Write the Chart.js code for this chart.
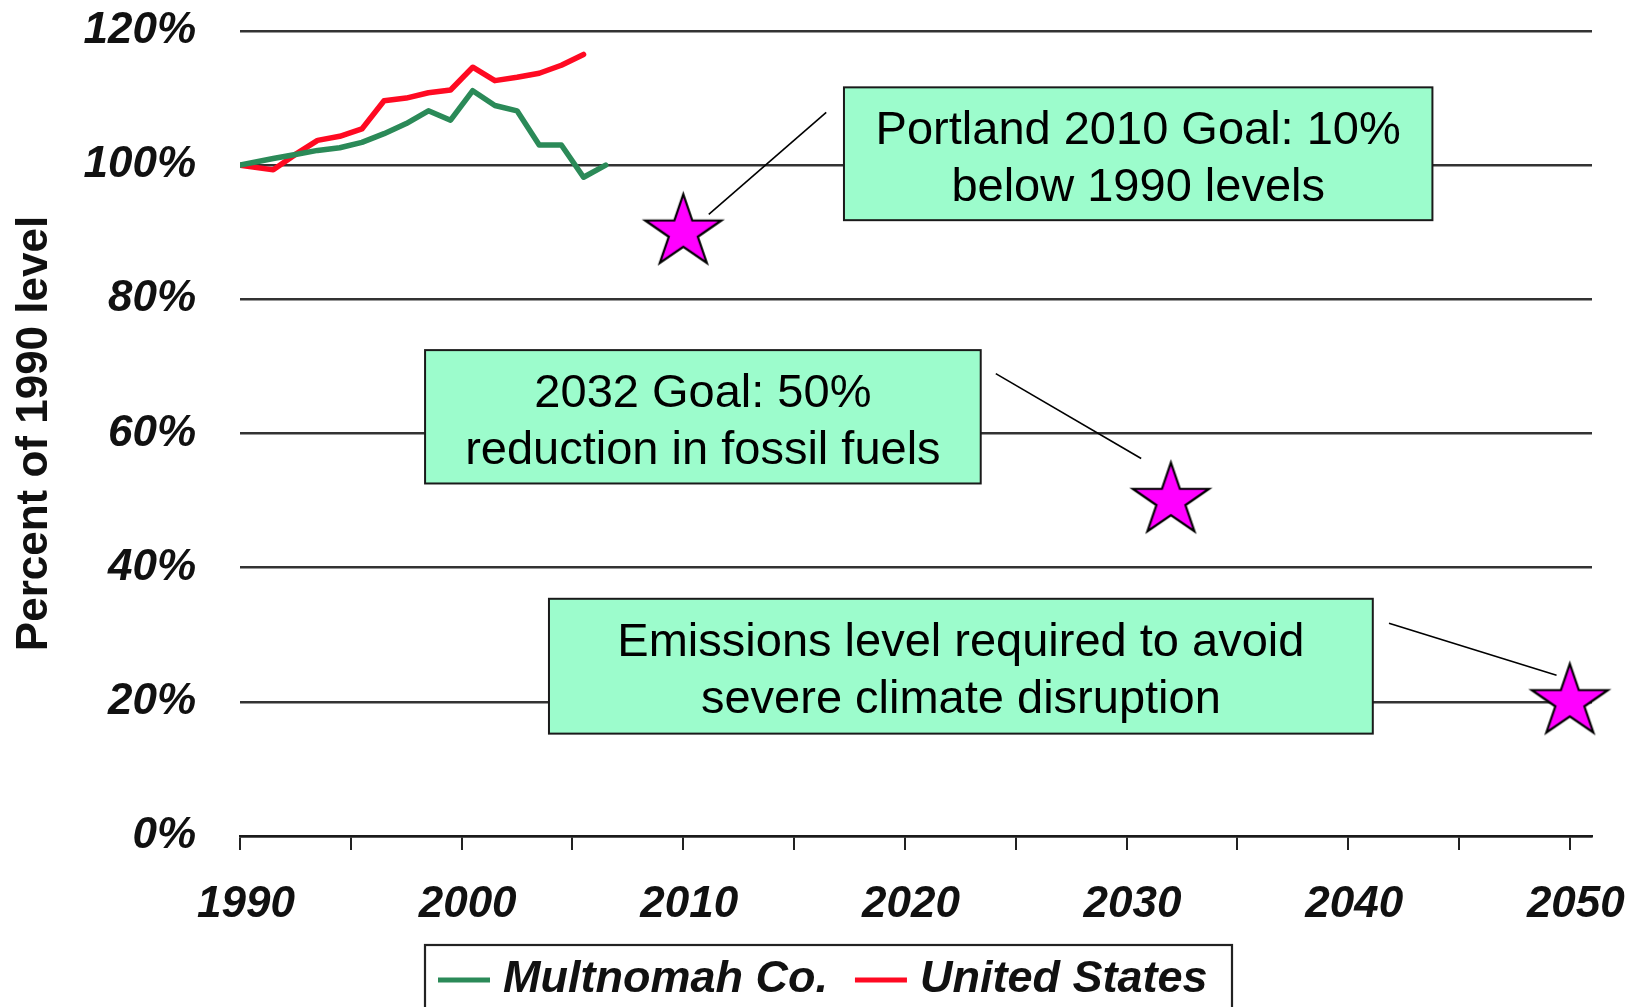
<!DOCTYPE html>
<html>
<head>
<meta charset="utf-8">
<script src="https://cdn.jsdelivr.net/npm/chart.js@4.4.1/dist/chart.umd.min.js"></script>
<style>
  html, body { margin: 0; padding: 0; background: #ffffff; }
  canvas { display: block; }
</style>
</head>
<body>
<canvas id="chart" width="1637" height="1007"></canvas>
<script>
// ---- Data: greenhouse gas emissions as a percent of the 1990 level ----
const multnomahYears  = [1990, 1991.5, 1992.5, 1993.5, 1994.5, 1995.5, 1996.5, 1997.5, 1998.5, 1999.5, 2000.5, 2001.5, 2002.5, 2003.5, 2004.5, 2005.5, 2006.5];
const multnomahValues = [100, 101.0, 101.6, 102.2, 102.6, 103.4, 104.7, 106.2, 108.1, 106.7, 111.1, 108.9, 108.1, 103.0, 103.0, 98.2, 100.0];

const usYears  = [1990, 1991.5, 1992.5, 1993.5, 1994.5, 1995.5, 1996.5, 1997.5, 1998.5, 1999.5, 2000.5, 2001.5, 2002.5, 2003.5, 2004.5, 2005.5];
const usValues = [100, 99.3, 101.6, 103.7, 104.3, 105.4, 109.6, 110.0, 110.8, 111.2, 114.6, 112.6, 113.1, 113.7, 114.9, 116.5];

// Reduction goals (year, percent of 1990 level)
const goalYears  = [2010, 2032, 2050];
const goalLevels = [90, 50, 20];
const goalNotes  = [
  ['Portland 2010 Goal: 10%', 'below 1990 levels'],
  ['2032 Goal: 50%', 'reduction in fossil fuels'],
  ['Emissions level required to avoid', 'severe climate disruption']
];

// Axis tick labels
const xLabelYears = [1990, 2000, 2010, 2020, 2030, 2040, 2050];
const yTickValues = [0, 20, 40, 60, 80, 100, 120];

const seriesNames = ['Multnomah Co.', 'United States'];

// ---- Styling ----
const FONT = '"Liberation Sans", Arial, Helvetica, sans-serif';
const GREEN = '#2b8a58';
const RED = '#ff0a22';
const NOTE_FILL = '#9cfccc';

// Note boxes and leader lines, placed in axis units (year, percent)
const noteLayout = [
  { x0: 2017.25, x1: 2043.8, y0: 111.6, y1: 91.8,  from: [2016.45, 107.86], to: [2011.15, 92.68] },
  { x0: 1998.35, x1: 2023.42, y0: 72.43, y1: 52.55, from: [2024.1, 68.93],  to: [2030.66, 56.27] },
  { x0: 2003.94, x1: 2041.11, y0: 35.36, y1: 15.26, from: [2041.84, 31.71], to: [2049.4, 23.97] }
];

const toXY = (xs, ys) => xs.map((x, i) => ({ x: x, y: ys[i] }));

// Magenta five-pointed star used as the goal marker
function makeStar(rx, ry, lw) {
  const w = Math.ceil(2 * rx + 2 * lw + 4);
  const h = Math.ceil(2 * ry + 2 * lw + 4);
  const c = document.createElement('canvas');
  c.width = w; c.height = h;
  const g = c.getContext('2d');
  const cx = w / 2, cy = h / 2;
  g.beginPath();
  for (let i = 0; i < 10; i++) {
    const k = (i % 2 === 0) ? 1 : 0.382;
    const a = -Math.PI / 2 + i * Math.PI / 5;
    g.lineTo(cx + rx * k * Math.cos(a), cy + ry * k * Math.sin(a));
  }
  g.closePath();
  g.fillStyle = '#ff00ff';
  g.fill();
  g.lineWidth = lw;
  g.lineJoin = 'miter';
  g.strokeStyle = '#000000';
  g.stroke();
  return c;
}
const starImage = makeStar(40, 38, 2.2);

// Boxed notes with leader lines
const notesPlugin = {
  id: 'goalNotes',
  afterDatasetsDraw(chart) {
    const { ctx, scales: { x, y } } = chart;
    ctx.save();
    noteLayout.forEach((n, i) => {
      const left = x.getPixelForValue(n.x0), right = x.getPixelForValue(n.x1);
      const top = y.getPixelForValue(n.y0), bottom = y.getPixelForValue(n.y1);
      ctx.fillStyle = NOTE_FILL;
      ctx.fillRect(left, top, right - left, bottom - top);
      ctx.lineWidth = 2;
      ctx.strokeStyle = '#1a1a1a';
      ctx.strokeRect(left, top, right - left, bottom - top);

      ctx.fillStyle = '#000000';
      ctx.font = '47px ' + FONT;
      ctx.textAlign = 'center';
      ctx.textBaseline = 'middle';
      const cx = (left + right) / 2, cy = (top + bottom) / 2;
      ctx.fillText(goalNotes[i][0], cx, cy - 23);
      ctx.fillText(goalNotes[i][1], cx, cy + 34);

      ctx.beginPath();
      ctx.moveTo(x.getPixelForValue(n.from[0]), y.getPixelForValue(n.from[1]));
      ctx.lineTo(x.getPixelForValue(n.to[0]), y.getPixelForValue(n.to[1]));
      ctx.lineWidth = 1.6;
      ctx.strokeStyle = '#000000';
      ctx.stroke();
    });
    ctx.restore();
  }
};

// Framed legend along the bottom edge
const legendPlugin = {
  id: 'framedLegend',
  afterDraw(chart) {
    const { ctx } = chart;
    const colors = [GREEN, RED];
    ctx.save();
    ctx.lineWidth = 2.2;
    ctx.strokeStyle = '#222222';
    ctx.strokeRect(425, 945, 807, 80);

    ctx.font = 'italic bold 45px ' + FONT;
    ctx.textBaseline = 'middle';
    ctx.textAlign = 'left';
    let px = 438;
    const cy = 980;
    seriesNames.forEach((name, i) => {
      ctx.beginPath();
      ctx.moveTo(px, cy);
      ctx.lineTo(px + 52, cy);
      ctx.lineWidth = 5;
      ctx.strokeStyle = colors[i];
      ctx.stroke();
      px += 65;
      ctx.fillStyle = '#111111';
      ctx.fillText(name, px, cy);
      px += ctx.measureText(name).width + 27;
    });
    ctx.restore();
  }
};

new Chart(document.getElementById('chart'), {
  type: 'scatter',
  data: {
    datasets: [
      {
        label: seriesNames[0],
        data: toXY(multnomahYears, multnomahValues),
        showLine: true,
        borderColor: GREEN,
        borderWidth: 5.5,
        pointRadius: 0,
        tension: 0,
        borderJoinStyle: 'round',
        borderCapStyle: 'round'
      },
      {
        label: seriesNames[1],
        data: toXY(usYears, usValues),
        showLine: true,
        borderColor: RED,
        borderWidth: 5.5,
        pointRadius: 0,
        tension: 0,
        borderJoinStyle: 'round',
        borderCapStyle: 'round'
      },
      {
        label: 'Goals',
        data: toXY(goalYears, goalLevels),
        showLine: false,
        pointStyle: starImage,
        pointRadius: 40,
        clip: false
      }
    ]
  },
  options: {
    responsive: false,
    animation: false,
    devicePixelRatio: 1,
    layout: { autoPadding: false, padding: { top: 31, right: 45, bottom: 0, left: 0 } },
    plugins: {
      legend: { display: false },
      tooltip: { enabled: false }
    },
    scales: {
      x: {
        type: 'linear',
        min: 1990,
        max: 2051,
        afterFit(scale) {
          scale.height = 171;
          scale.paddingLeft = 0;
          scale.paddingRight = 0;
        },
        ticks: {
          stepSize: 5,
          includeBounds: false,
          autoSkip: false,
          maxRotation: 0,
          padding: 28,
          labelOffset: 6,
          color: '#111111',
          font: { family: FONT, size: 44, style: 'italic', weight: 'bold' },
          callback: (v) => xLabelYears.includes(v) ? String(v) : ''
        },
        grid: {
          display: true,
          drawOnChartArea: false,
          drawTicks: true,
          tickLength: 14,
          color: '#222222',
          lineWidth: 2
        },
        border: { display: true, color: '#1a1a1a', width: 2.5 }
      },
      y: {
        type: 'linear',
        min: 0,
        max: 120,
        afterFit(scale) {
          scale.width = 240;
          scale.paddingTop = 0;
          scale.paddingBottom = 0;
        },
        afterBuildTicks(scale) {
          scale.ticks = yTickValues.map(v => ({ value: v }));
        },
        ticks: {
          padding: 44,
          color: '#111111',
          font: { family: FONT, size: 44, style: 'italic', weight: 'bold' },
          callback: (v) => v + '%'
        },
        grid: {
          color: '#333333',
          lineWidth: 2.5,
          drawTicks: false
        },
        border: { display: false },
        title: {
          display: true,
          text: 'Percent of 1990 level',
          color: '#111111',
          font: { family: FONT, size: 44, weight: 'bold' },
          padding: { top: 8, bottom: 0 }
        }
      }
    }
  },
  plugins: [notesPlugin, legendPlugin]
});
</script>
</body>
</html>
